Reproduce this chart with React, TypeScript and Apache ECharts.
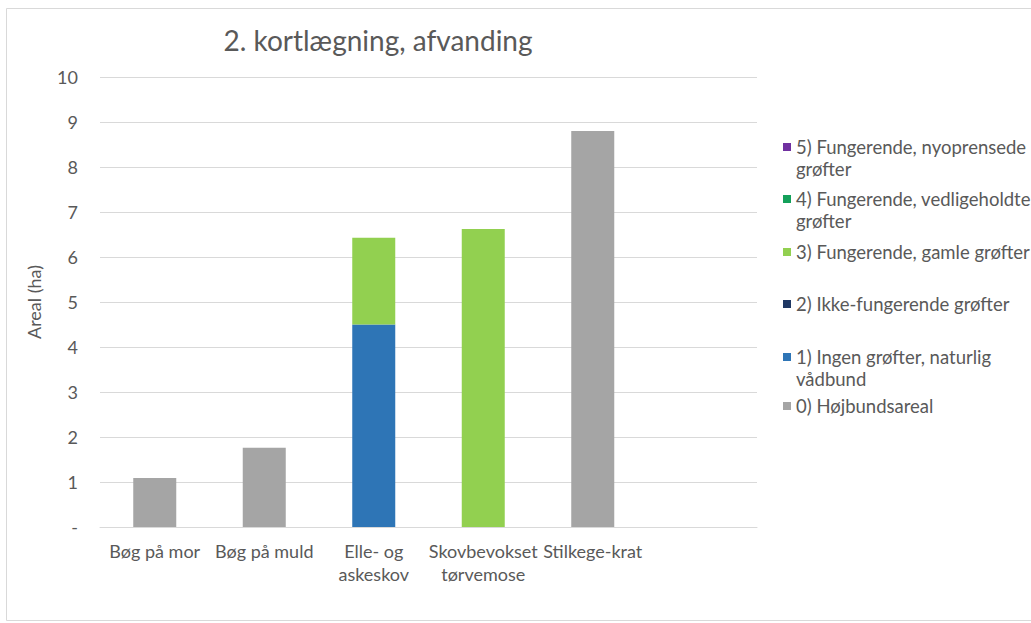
import React, { useEffect, useRef } from "react";
import * as echarts from "echarts";

// ---- data ----
const categories = ["Bøg på mor", "Bøg på muld", "Elle- og askeskov", "Skovbevokset tørvemose", "Stilkege-krat", ""];
const categoryLabels = ["Bøg på mor", "Bøg på muld", "Elle- og\naskeskov", "Skovbevokset\ntørvemose", "Stilkege-krat", ""];

const seriesNames = [
  "0) Højbundsareal",
  "1) Ingen grøfter, naturlig vådbund",
  "2) Ikke-fungerende grøfter",
  "3) Fungerende, gamle grøfter",
  "4) Fungerende, vedligeholdte grøfter",
  "5) Fungerende, nyoprensede grøfter",
];
// legend text split in two lines as in the reference
const legendFirstLine = [
  "0) Højbundsareal",
  "1) Ingen grøfter, naturlig",
  "2) Ikke-fungerende grøfter",
  "3) Fungerende, gamle grøfter",
  "4) Fungerende, vedligeholdte",
  "5) Fungerende, nyoprensede",
];
const legendSecondLine = ["", "vådbund", "", "", "grøfter", "grøfter"];

const hojbundsareal = [1.09, 1.76, null, null, 8.8, null];
const ingenGrofter = [null, null, 4.5, null, null, null];
const ikkeFungerende = [null, null, null, null, null, null];
const gamleGrofter = [null, null, 1.93, 6.62, null, null];
const vedligeholdte = [null, null, null, null, null, null];
const nyoprensede = [null, null, null, null, null, null];

const seriesData = [hojbundsareal, ingenGrofter, ikkeFungerende, gamleGrofter, vedligeholdte, nyoprensede];
const seriesColors = ["#A5A5A5", "#2E75B6", "#1F3864", "#92D050", "#14A05A", "#7030A0"];

const yMin = 0;
const yMax = 10;
const yInterval = 1;
const zeroTickLabel = "-";

const title = "2. kortlægning, afvanding";
const yAxisName = "Areal (ha)";

const FONT = "Lato, 'Open Sans', sans-serif";
const TXT = "#595959";
const LEGEND_FS = 18.5;

export default function App() {
  const ref = useRef<HTMLDivElement>(null);
  useEffect(() => {
    if (!ref.current) return;
    const chart = echarts.init(ref.current, undefined, { renderer: "svg" });

    // legend rows: top-most is series 5
    const legendCenters = [406, 357, 304, 252, 199, 147]; // index by series
    const legendX = 783;
    const legends = seriesNames.map((name, i) => ({
      data: [name],
      orient: "vertical",
      left: legendX,
      top: legendCenters[i] - 11,
      padding: 0,
      itemWidth: 8,
      itemHeight: 8,
      icon: "rect",
      selectedMode: false,
      formatter: () => legendFirstLine[i],
      textStyle: { color: TXT, fontFamily: FONT, fontSize: LEGEND_FS, lineHeight: 22 },
    }));

    const secondLines: any[] = [];
    seriesNames.forEach((_, i) => {
      if (legendSecondLine[i]) {
        secondLines.push({
          type: "text",
          left: legendX + 13,
          top: legendCenters[i] + 11,
          style: {
            text: legendSecondLine[i],
            fill: TXT,
            font: `${LEGEND_FS}px ${FONT}`,
            lineHeight: 22,
          },
        });
      }
    });

    chart.setOption({
      animation: false,
      backgroundColor: "#ffffff",
      grid: { left: 100, right: 274, top: 77, bottom: 96, containLabel: false },
      legend: legends,
      xAxis: {
        type: "category",
        data: categories,
        axisLine: { show: true, lineStyle: { color: "#D9D9D9", width: 1 } },
        axisTick: { show: false },
        axisLabel: {
          color: TXT,
          fontFamily: FONT,
          fontSize: 18,
          lineHeight: 23,
          margin: 12,
          interval: 0,
          formatter: (v: string) => categoryLabels[categories.indexOf(v)] ?? v,
        },
      },
      yAxis: {
        type: "value",
        min: yMin,
        max: yMax,
        interval: yInterval,
        name: yAxisName,
        nameLocation: "middle",
        nameGap: 57,
        nameTextStyle: { color: TXT, fontFamily: FONT, fontSize: 18 },
        axisLine: { show: false },
        axisTick: { show: false },
        splitLine: { show: true, lineStyle: { color: "#D9D9D9", width: 1 } },
        axisLabel: {
          color: TXT,
          fontFamily: FONT,
          fontSize: 18,
          margin: 22,
          formatter: (v: number) => (v === 0 ? zeroTickLabel : String(v)),
        },
      },
      series: seriesNames.map((name, i) => ({
        name,
        type: "bar",
        stack: "total",
        barWidth: 43,
        data: seriesData[i],
        itemStyle: { color: seriesColors[i] },
      })),
      graphic: [
        {
          type: "rect",
          shape: { x: 6.5, y: 8.5, width: 1030, height: 612 },
          style: { fill: "none", stroke: "#D9D9D9", lineWidth: 1 },
          silent: true,
        },
        {
          type: "text",
          x: 378,
          y: 40,
          style: {
            text: title,
            fill: TXT,
            font: `28px ${FONT}`,
            textAlign: "center",
            textVerticalAlign: "middle",
          },
        },
        ...secondLines,
      ],
    });
    return () => chart.dispose();
  }, []);
  return (
    <div
      ref={ref}
      style={{ position: "absolute", left: 0, top: 0, width: 1031, height: 623, background: "#fff" }}
    />
  );
}
